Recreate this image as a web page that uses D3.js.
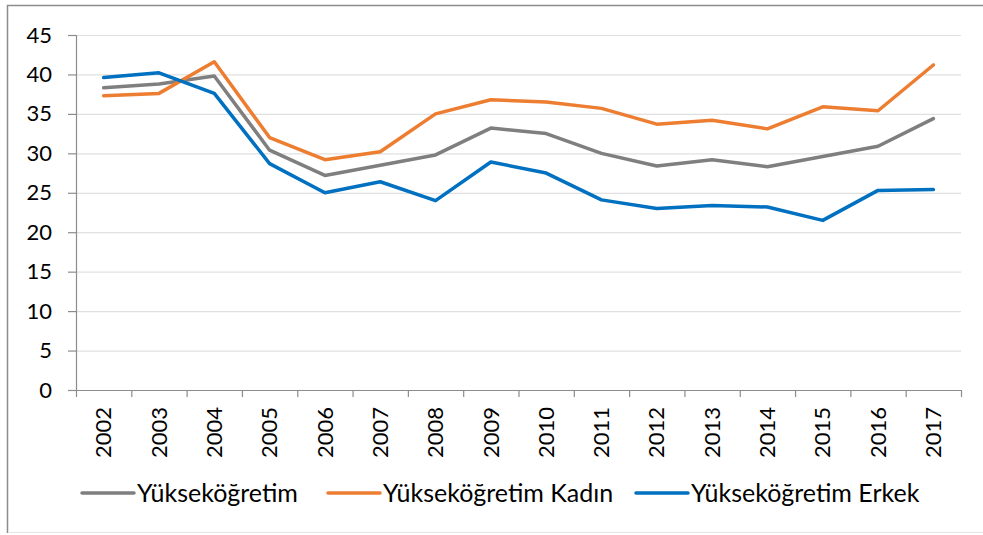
<!DOCTYPE html>
<html>
<head>
<meta charset="utf-8">
<script src="https://cdn.jsdelivr.net/npm/d3@7"></script>
<style>
  body { margin: 0; background: #fff; }
  svg { display: block; font-family: Lato, "Open Sans", sans-serif; }
</style>
</head>
<body>
<svg width="983" height="535"></svg>
<script>
var years = ["2002", "2003", "2004", "2005", "2006", "2007", "2008", "2009",
             "2010", "2011", "2012", "2013", "2014", "2015", "2016", "2017"];
var yTicks = [0, 5, 10, 15, 20, 25, 30, 35, 40, 45];

var total  = [38.3, 38.8, 39.8, 30.4, 27.2, 28.5, 29.8, 33.2, 32.5, 30.0, 28.4, 29.2, 28.3, 29.6, 30.9, 34.4];
var women  = [37.3, 37.6, 41.6, 32.0, 29.2, 30.2, 35.0, 36.8, 36.5, 35.7, 33.7, 34.2, 33.1, 35.9, 35.4, 41.2];
var men    = [39.6, 40.2, 37.6, 28.7, 25.0, 26.4, 24.0, 28.9, 27.5, 24.1, 23.0, 23.4, 23.2, 21.5, 25.3, 25.4];

var seriesNames = ["Yükseköğretim", "Yükseköğretim Kadın", "Yükseköğretim Erkek"];
var seriesColors = ["#7f7f7f", "#ed7d31", "#0070c0"];
var series = [total, women, men];

var svg = d3.select("svg"),
    margin = {top: 35, right: 22, bottom: 145, left: 76},
    width = 983 - margin.left - margin.right,
    height = 535 - margin.top - margin.bottom;

// chart frame: top and left visible, bottom faint
svg.append("path")
    .attr("d", "M7.5,533V5.5H983")
    .attr("fill", "none")
    .attr("stroke", "#8c8c8c")
    .attr("stroke-width", 1.5);
svg.append("line")
    .attr("x1", 8).attr("x2", 983)
    .attr("y1", 532.5).attr("y2", 532.5)
    .attr("stroke", "#e6e6e6");

var g = svg.append("g").attr("transform", "translate(" + margin.left + "," + margin.top + ")");

var x = d3.scaleBand().domain(years).range([0, width]);
var y = d3.scaleLinear().domain([0, 45]).range([height, 0]);

// grid
g.append("g")
    .selectAll("line")
    .data(yTicks.filter(function (d) { return d > 0; }))
    .enter().append("line")
    .attr("x1", 0).attr("x2", width)
    .attr("y1", function (d) { return y(d) + 0.5; })
    .attr("y2", function (d) { return y(d) + 0.5; })
    .attr("stroke", "#e0e0e0")
    .attr("stroke-width", 1.2);

// y axis
var yAxis = g.append("g")
    .call(d3.axisLeft(y).tickValues(yTicks).tickSize(8).tickPadding(16));
yAxis.selectAll("path, line").attr("stroke", "#8c8c8c").attr("stroke-width", 1.2);
yAxis.select(".domain").attr("d", "M0.5," + height + "V0");
yAxis.selectAll("text")
    .attr("font-size", "22px")
    .attr("font-family", "Lato, sans-serif")
    .attr("fill", "#000");

// x axis
var xAxis = g.append("g")
    .attr("transform", "translate(0," + height + ")")
    .call(d3.axisBottom(x).tickSize(0));
xAxis.select(".domain").attr("stroke", "#8c8c8c").attr("stroke-width", 1.2).attr("d", "M0,0.5H" + width);
xAxis.selectAll(".tick line").remove();
xAxis.append("g")
    .selectAll("line")
    .data(d3.range(years.length + 1))
    .enter().append("line")
    .attr("x1", function (i) { return i * x.bandwidth() + 0.5; })
    .attr("x2", function (i) { return i * x.bandwidth() + 0.5; })
    .attr("y1", 0).attr("y2", 7)
    .attr("stroke", "#8c8c8c").attr("stroke-width", 1.2);
xAxis.selectAll(".tick text")
    .attr("font-size", "22px")
    .attr("font-family", "Lato, sans-serif")
    .attr("fill", "#000")
    .attr("transform", "rotate(-90)")
    .attr("text-anchor", "end")
    .attr("x", -17)
    .attr("y", 0)
    .attr("dy", "0.35em");

// lines
var line = d3.line()
    .x(function (d, i) { return x(years[i]) + x.bandwidth() / 2; })
    .y(function (d) { return y(d); });

g.selectAll(".series")
    .data(series)
    .enter().append("path")
    .attr("class", "series")
    .attr("d", line)
    .attr("fill", "none")
    .attr("stroke", function (d, i) { return seriesColors[i]; })
    .attr("stroke-width", 3.5)
    .attr("stroke-linejoin", "round")
    .attr("stroke-linecap", "round");

// legend
var legendX = [82, 328, 636];
var legend = svg.append("g").attr("transform", "translate(0,493)");
var item = legend.selectAll("g")
    .data(seriesNames)
    .enter().append("g")
    .attr("transform", function (d, i) { return "translate(" + legendX[i] + ",0)"; });
item.append("line")
    .attr("x1", 0).attr("x2", 52)
    .attr("stroke", function (d, i) { return seriesColors[i]; })
    .attr("stroke-width", 3.5)
    .attr("stroke-linecap", "round");
item.append("text")
    .attr("x", 55)
    .attr("dy", "0.35em")
    .attr("font-size", "25px")
    .attr("fill", "#000")
    .text(function (d) { return d; });
</script>
</body>
</html>
